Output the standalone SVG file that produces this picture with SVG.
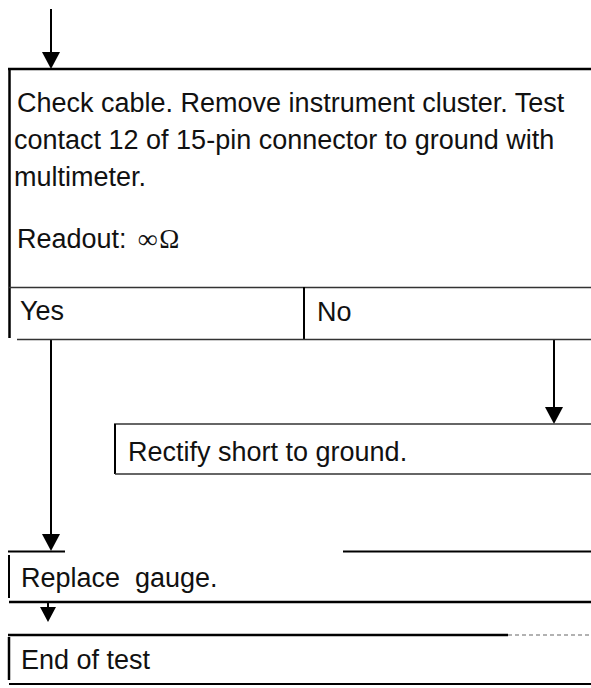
<svg xmlns="http://www.w3.org/2000/svg" width="591" height="688" viewBox="0 0 591 688">
<style>
  text { font-family: "Liberation Sans", Arial, sans-serif; font-size: 27px; fill: #111; }
  .frame { stroke: #000; stroke-width: 2.5; fill: none; }
  .thin { stroke: #333; stroke-width: 1.5; fill: none; }
  .conn { stroke: #000; stroke-width: 2; fill: none; }
  .head { fill: #000; }
</style>
<rect width="591" height="688" fill="#fff"/>
<g id="connectors">
  <line class="conn" x1="51" y1="9" x2="51" y2="55"/>
  <polygon class="head" points="42,52 60,52 51,69"/>
  <line class="conn" x1="51" y1="339" x2="51" y2="537"/>
  <polygon class="head" points="42,534 60,534 51,551"/>
  <line class="conn" x1="554" y1="339" x2="554" y2="410"/>
  <polygon class="head" points="545,407 563,407 554,424"/>
  <line class="conn" x1="48" y1="603" x2="48" y2="610"/>
  <polygon class="head" points="40,607 56,607 48,622"/>
</g>
<g id="check">
  <line class="frame" x1="8" y1="69" x2="591" y2="69"/>
  <line class="frame" x1="9.5" y1="69" x2="9.5" y2="338"/>
  <text x="17" y="112">Check cable. Remove instrument cluster. Test</text>
  <text x="14" y="149">contact 12 of 15-pin connector to ground with</text>
  <text x="14" y="186">multimeter.</text>
  <text x="17" y="248">Readout: <tspan dx="4" font-family="Liberation Serif, serif" font-weight="bold">∞</tspan><tspan dx="2" font-family="Liberation Serif, serif">Ω</tspan></text>
  <line class="thin" x1="9" y1="287.5" x2="591" y2="287.5"/>
  <line class="conn" x1="304" y1="287" x2="304" y2="339"/>
  <text x="20" y="320">Yes</text>
  <text x="317" y="321">No</text>
  <line class="thin" x1="17" y1="339.5" x2="591" y2="339.5"/>
</g>
<g id="rectify">
  <line class="thin" x1="114" y1="424" x2="591" y2="424"/>
  <line class="conn" x1="115" y1="424" x2="115" y2="474"/>
  <text x="128" y="461">Rectify short to ground.</text>
  <line class="thin" x1="115" y1="474" x2="591" y2="474"/>
</g>
<g id="replace">
  <line class="conn" x1="8" y1="551.5" x2="65" y2="551.5"/>
  <line class="conn" x1="343" y1="551.5" x2="591" y2="551.5"/>
  <line class="conn" x1="9" y1="555" x2="9" y2="598"/>
  <text x="21" y="587">Replace<tspan x="135">gauge.</tspan></text>
  <line class="frame" x1="9" y1="602" x2="591" y2="602"/>
</g>
<g id="end">
  <line class="frame" x1="8" y1="635" x2="508" y2="635"/>
  <line stroke="#999" stroke-width="1.5" stroke-dasharray="4,3" x1="508" y1="635" x2="591" y2="635"/>
  <line class="frame" x1="9" y1="637" x2="9" y2="680"/>
  <text x="21" y="669">End of test</text>
  <line class="conn" x1="9" y1="684" x2="591" y2="684"/>
</g>
</svg>
